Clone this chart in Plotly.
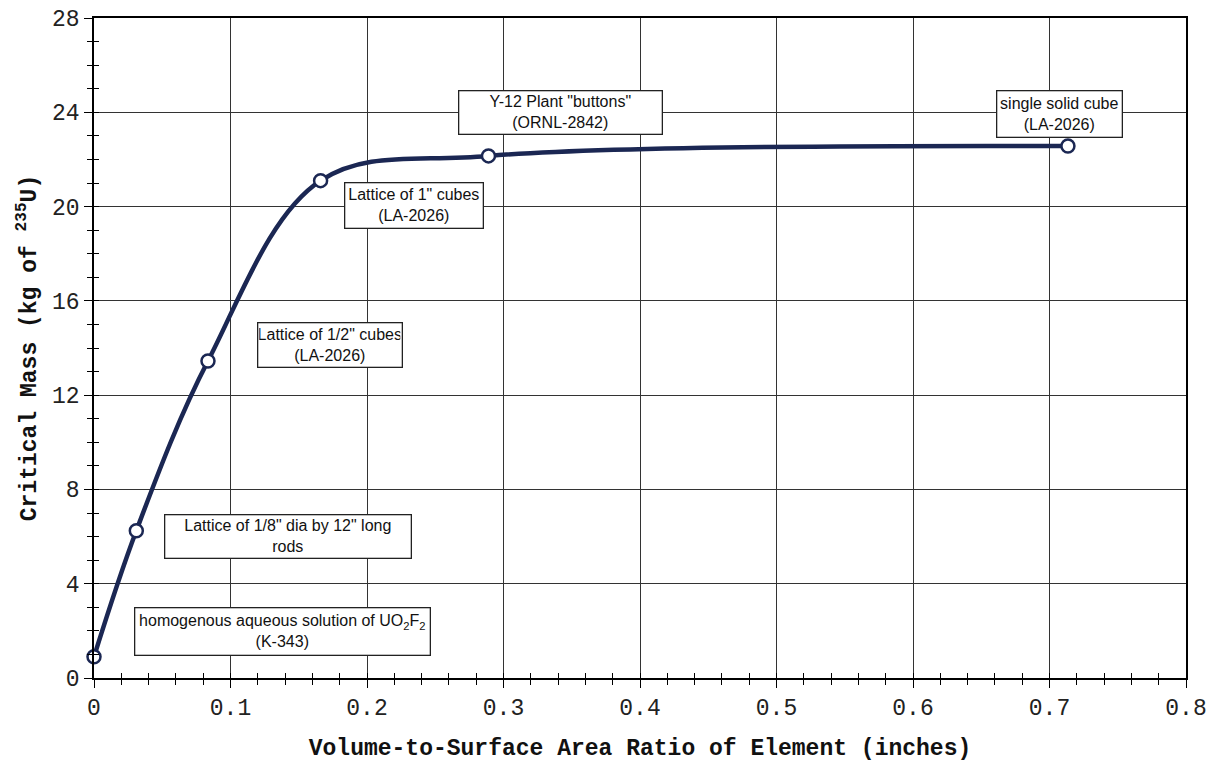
import plotly.graph_objects as go

# Data
ratio_in = [0.0, 0.031, 0.0835, 0.166, 0.289, 0.7135]
critical_mass_kg = [0.9, 6.25, 13.45, 21.1, 22.15, 22.57]

label_text = [
    "homogenous aqueous solution of UO<sub>2</sub>F<sub>2</sub><br>(K-343)",
    "Lattice of 1/8\" dia by 12\" long<br>rods",
    "Lattice of 1/2\" cubes<br>(LA-2026)",
    "Lattice of 1\" cubes<br>(LA-2026)",
    "Y-12 Plant \"buttons\"<br>(ORNL-2842)",
    "single solid cube<br>(LA-2026)",
]
label_x = [0.138, 0.1418, 0.1729, 0.2344, 0.3414, 0.707]
label_y = [1.97, 6.0, 14.13, 20.05, 24.0, 23.93]
# box sizes in pixels (layout only)
box_w = [297, 248, 146, 140, 205, 127]
box_h = [49, 45, 46, 47, 45, 48]

x_ticks = [0, 0.1, 0.2, 0.3, 0.4, 0.5, 0.6, 0.7, 0.8]
x_tick_text = ["0", "0.1", "0.2", "0.3", "0.4", "0.5", "0.6", "0.7", "0.8"]
y_ticks = [0, 4, 8, 12, 16, 20, 24, 28]

MONO = "Courier New, Liberation Mono, monospace"
SANS = "Arial, Liberation Sans, sans-serif"
LINE = "#1b2753"

fig = go.Figure()
fig.add_trace(go.Scatter(
    x=ratio_in, y=critical_mass_kg, mode="lines+markers",
    line=dict(color=LINE, width=4.5, shape="spline", smoothing=1.0),
    marker=dict(symbol="circle", size=13, color="white", line=dict(color=LINE, width=2.5)),
    cliponaxis=False, showlegend=False,
))
# invisible trace on overlay axes for the crossing (inside) ticks
fig.add_trace(go.Scatter(x=[0, 0.8], y=[0, 28], xaxis="x2", yaxis="y2",
                         mode="markers", marker=dict(opacity=0), showlegend=False,
                         hoverinfo="skip"))

for t, xv, yv, w, h in zip(label_text, label_x, label_y, box_w, box_h):
    fig.add_annotation(x=xv, y=yv, text=t, showarrow=False,
                       font=dict(family=SANS, size=16, color="#111"),
                       bgcolor="white", bordercolor="#222", borderwidth=1.3,
                       borderpad=1, width=w - 5, height=h - 5,
                       align="center", valign="middle")

axis_common = dict(showline=True, linecolor="black", linewidth=1.5, mirror=True,
                   showgrid=True, gridcolor="#333", gridwidth=1, zeroline=False,
                   ticks="outside", ticklen=8, tickcolor="black", tickwidth=1.3,
                   automargin=False, ticklabeloverflow="allow",
                   tickfont=dict(family=MONO, size=23, color="#222"))

# the page body adds an 8px margin, so the figure is 8px smaller and margins shifted
fig.update_layout(
    width=1206, height=754,
    margin=dict(l=86, r=28, t=10, b=84),
    paper_bgcolor="white", plot_bgcolor="white",
    xaxis=dict(range=[0, 0.8], tickvals=x_ticks, ticktext=x_tick_text,
               minor=dict(dtick=0.02, ticks="outside", ticklen=5, tickcolor="black", tickwidth=1.3, showgrid=False),
               title=dict(text="Volume-to-Surface Area Ratio of Element (inches)",
                          font=dict(family=MONO, size=23, color="#111", weight="bold"), standoff=22),
               **axis_common),
    yaxis=dict(range=[0, 28], tickvals=y_ticks,
               minor=dict(dtick=1, ticks="outside", ticklen=5, tickcolor="black", tickwidth=1.3, showgrid=False),
               title=dict(text="Critical Mass (kg of <sup>235</sup>U)",
                          font=dict(family=MONO, size=23, color="#111", weight="bold"), standoff=9),
               **axis_common),
    xaxis2=dict(overlaying="x", range=[0, 0.8], showgrid=False, zeroline=False, showticklabels=False,
                tickvals=x_ticks, ticks="inside", ticklen=4, tickcolor="black", tickwidth=1.3,
                minor=dict(dtick=0.02, ticks="inside", ticklen=5, tickcolor="black", tickwidth=1.3),
                anchor="y2", side="bottom", automargin=False),
    yaxis2=dict(overlaying="y", range=[0, 28], showgrid=False, zeroline=False, showticklabels=False,
                tickvals=y_ticks, ticks="inside", ticklen=4, tickcolor="black", tickwidth=1.3,
                minor=dict(dtick=1, ticks="inside", ticklen=5, tickcolor="black", tickwidth=1.3),
                anchor="x2", side="left", automargin=False),
)

fig.write_html("out.html")
